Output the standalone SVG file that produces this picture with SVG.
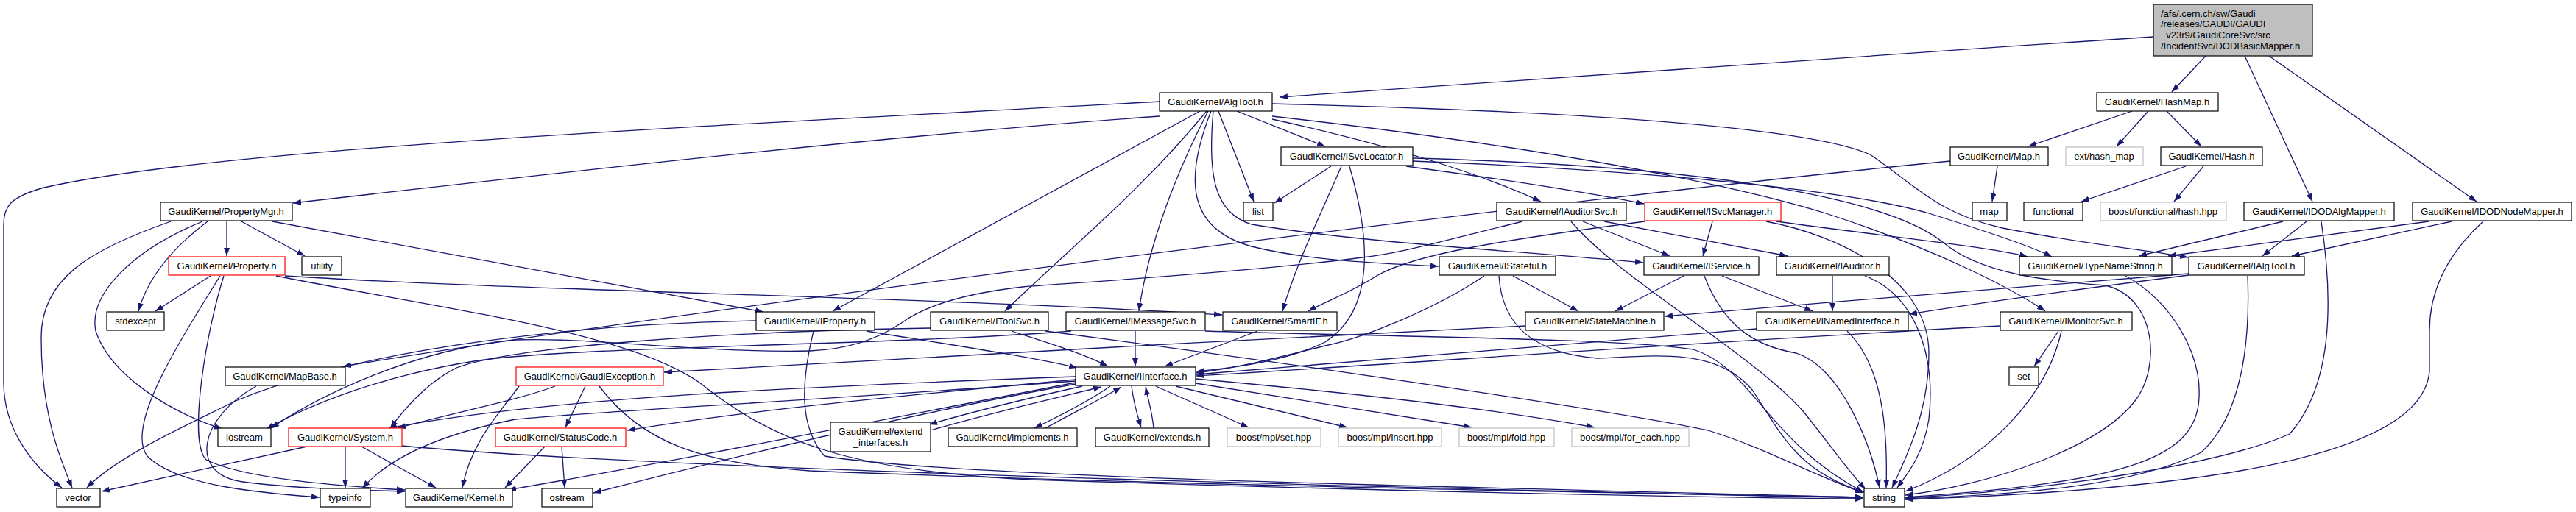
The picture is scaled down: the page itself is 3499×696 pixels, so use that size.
<svg xmlns="http://www.w3.org/2000/svg" width="3499" height="696" viewBox="0 0 3499 696">
<defs>
<marker id="a" markerUnits="userSpaceOnUse" markerWidth="12" markerHeight="9" refX="11" refY="4" orient="auto"><path d="M0,0 L11,4 L0,8 z" fill="#191970"/></marker>
<style>
.n rect{fill:#fff;stroke:#000;stroke-width:1.2}
.g rect{stroke:#bfbfbf}
.r rect{stroke:#ff0000}
text{font-family:"Liberation Sans",Arial,sans-serif;font-size:13px;fill:#000;text-anchor:middle}
.e path{fill:none;stroke:#191970;stroke-width:1.3;marker-end:url(#a)}
</style>
</defs>
<rect width="3499" height="696" fill="#fff"/>
<g id="edges" class="e">
<path d="M2925,50 C2500,78 2050,110 1738,132"/>
<path d="M2996,76 L2950,125"/>
<path d="M3049,76 L3141,274"/>
<path d="M3082,76 L3364,274"/>
<path d="M2896,151 L2755,199"/>
<path d="M2918,151 L2875,199"/>
<path d="M2943,151 L2990,199"/>
<path d="M2969,226 L2827,274"/>
<path d="M2993,226 L2953,274"/>
<path d="M2713,226 L2706,274"/>
<path d="M2649,219 C2200,262 1000,410 466,498"/>
<path d="M348,525 C270,568 255,645 330,655 C400,664 480,666 550,668"/>
<path d="M3101,301 L2905,348"/>
<path d="M3133,301 L3073,348"/>
<path d="M3153,301 C3168,400 3172,520 3110,590 C3020,630 2800,665 2588,677"/>
<path d="M3299,301 L2945,348"/>
<path d="M3330,301 L3113,348"/>
<path d="M3373,301 C3330,340 3300,390 3300,450 L3300,505 C3290,620 3000,665 2588,679"/>
<path d="M2887,375 C2950,410 2990,480 2987,540 C2984,620 2900,655 2588,676"/>
<path d="M2973,374 C2800,396 2700,410 2593,427"/>
<path d="M2973,372 C2700,392 2500,410 2261,430"/>
<path d="M3053,375 C3056,450 3050,560 2990,615 C2900,660 2750,672 2588,678"/>
<path d="M1575,138 C1000,170 300,200 60,255 C12,268 5,282 5,305 L5,520 C5,580 40,630 84,663"/>
<path d="M1575,158 C1200,185 800,230 398,276"/>
<path d="M1630,151 L1131,423"/>
<path d="M1639,151 C1550,260 1450,340 1365,423"/>
<path d="M1641,151 C1600,230 1560,330 1547,423"/>
<path d="M1645,151 C1610,240 1610,310 1700,335 C1780,355 1880,358 1954,362"/>
<path d="M1648,151 C1640,240 1650,290 1700,305 C1850,330 2050,340 2232,357"/>
<path d="M1655,151 L1703,274"/>
<path d="M1680,151 L1800,199"/>
<path d="M1728,162 C1900,200 2020,240 2093,274"/>
<path d="M1728,158 C2100,200 2350,250 2480,290 C2620,335 2730,390 2778,423"/>
<path d="M1728,141 C2100,150 2450,170 2540,210 C2600,250 2630,290 2720,310 C2850,335 2920,340 2972,350"/>
<path d="M1808,226 L1731,276"/>
<path d="M1822,226 C1790,300 1760,360 1742,423"/>
<path d="M1833,226 C1860,320 1870,420 1800,465 C1750,490 1680,500 1625,505"/>
<path d="M1910,226 C2050,245 2150,260 2233,277"/>
<path d="M1919,219 C2200,230 2500,255 2620,290 C2700,315 2760,335 2787,349"/>
<path d="M1919,215 C2300,225 2560,265 2640,330 C2690,372 2780,382 2860,388 C2930,405 2935,500 2900,545 C2850,610 2700,660 2588,673"/>
<path d="M2326,301 L2313,348"/>
<path d="M2234,301 C2050,325 1920,345 1870,375 C1830,400 1800,410 1777,423"/>
<path d="M2413,301 C2550,320 2700,335 2754,349"/>
<path d="M2399,301 C2500,320 2620,380 2620,480 C2620,560 2590,620 2570,663"/>
<path d="M2150,301 L2268,348"/>
<path d="M2179,301 L2428,348"/>
<path d="M2134,301 C2200,380 2380,480 2450,560 C2490,610 2510,640 2534,665"/>
<path d="M2068,301 C1950,330 1900,345 1850,350 C1700,370 1450,385 1389,390 C1300,400 1250,420 1223,440 C1190,462 1150,475 1100,477 C950,480 800,458 700,462 C560,475 430,540 368,582"/>
<path d="M2055,375 L2144,423"/>
<path d="M2016,375 C1950,420 1850,460 1800,470 C1720,490 1680,500 1625,507"/>
<path d="M2036,375 C2040,440 2080,480 2170,487 C2240,485 2330,470 2380,530 C2420,590 2440,640 2532,669"/>
<path d="M2287,375 L2194,423"/>
<path d="M2339,375 L2462,423"/>
<path d="M2315,375 C2340,440 2380,470 2440,480 C2500,500 2540,600 2553,663"/>
<path d="M2489,375 L2489,423"/>
<path d="M2533,375 C2600,400 2630,480 2620,570 C2612,620 2590,645 2577,663"/>
<path d="M2386,447 C2100,470 1800,495 1625,509"/>
<path d="M2509,450 C2550,490 2565,560 2562,663"/>
<path d="M2072,443 C1700,460 1200,490 902,506"/>
<path d="M2717,443 C2300,465 1900,495 1625,511"/>
<path d="M2796,450 L2763,498"/>
<path d="M2800,450 C2780,540 2700,625 2588,668"/>
<path d="M1177,450 C1300,470 1400,485 1463,500"/>
<path d="M1027,436 C800,440 500,470 320,545 C250,580 160,620 118,663"/>
<path d="M1105,450 C1088,520 1085,580 1120,620 C1300,650 2000,662 2531,676"/>
<path d="M1374,450 C1420,465 1470,480 1505,498"/>
<path d="M1420,450 C1800,500 2200,560 2320,585 C2400,610 2450,640 2531,670"/>
<path d="M1264,446 C1000,450 700,470 620,500 C580,520 550,555 530,582"/>
<path d="M1542,450 L1542,498"/>
<path d="M1455,450 C1200,470 800,470 650,490 C520,510 420,550 362,583"/>
<path d="M1637,450 C1900,458 2200,460 2300,475 C2380,500 2400,600 2531,669"/>
<path d="M1708,450 L1582,498"/>
<path d="M232,301 C120,340 55,380 56,460 C56,560 80,620 98,663"/>
<path d="M275,301 C180,340 120,400 130,450 C150,510 230,560 302,583"/>
<path d="M282,301 C230,340 200,380 188,423"/>
<path d="M308,301 L308,348"/>
<path d="M328,301 L414,348"/>
<path d="M370,301 L1037,424"/>
<path d="M286,375 L211,423"/>
<path d="M299,375 C240,470 170,580 200,620 C240,660 350,670 434,676"/>
<path d="M304,375 C280,450 255,600 280,625 C330,650 450,660 550,666"/>
<path d="M387,375 C700,395 1300,405 1660,428"/>
<path d="M375,375 C600,420 850,450 950,520 C1050,600 1150,640 1400,652 C1900,668 2300,676 2531,678"/>
<path d="M754,525 C700,545 620,560 540,582"/>
<path d="M795,525 L768,581"/>
<path d="M814,525 C870,600 950,630 1100,640 C1600,660 2200,670 2531,676"/>
<path d="M705,525 C680,560 640,600 628,663"/>
<path d="M763,607 L767,663"/>
<path d="M740,607 L686,663"/>
<path d="M417,607 L138,668"/>
<path d="M469,607 L469,663"/>
<path d="M491,607 L592,663"/>
<path d="M546,606 C800,630 1500,655 2531,677"/>
<path d="M1461,512 C1100,525 750,540 528,582"/>
<path d="M1461,520 C1150,580 900,630 690,666"/>
<path d="M1461,518 C1100,545 800,560 700,570 C600,590 530,620 492,664"/>
<path d="M1461,516 C1200,540 1000,560 852,585"/>
<path d="M1461,522 C1250,560 1000,620 806,670"/>
<path d="M1470,525 C1380,545 1320,560 1262,577"/>
<path d="M1264,585 C1350,560 1430,542 1496,526"/>
<path d="M1508,525 C1480,545 1440,565 1405,582"/>
<path d="M1420,582 C1460,560 1500,540 1523,526"/>
<path d="M1537,525 C1540,550 1545,565 1550,581"/>
<path d="M1567,582 C1565,560 1560,545 1556,526"/>
<path d="M1570,525 L1696,581"/>
<path d="M1597,525 L1830,581"/>
<path d="M1624,521 L1999,581"/>
<path d="M1624,515 C1900,540 2050,560 2166,581"/>
</g>
<g id="root" class="n"><rect x="2925" y="6" width="216" height="70" style="fill:#bfbfbf"/>
<text x="2935" y="23" style="text-anchor:start">/afs/.cern.ch/sw/Gaudi</text>
<text x="2935" y="37" style="text-anchor:start">/releases/GAUDI/GAUDI</text>
<text x="2935" y="52" style="text-anchor:start">_v23r9/GaudiCoreSvc/src</text>
<text x="2935" y="67" style="text-anchor:start">/IncidentSvc/DODBasicMapper.h</text></g>
<g id="AlgTool" class="n"><rect x="1575" y="126" width="153" height="25"/><text x="1651" y="143">GaudiKernel/AlgTool.h</text></g>
<g id="HashMap" class="n"><rect x="2848" y="126" width="165" height="25"/><text x="2930" y="143">GaudiKernel/HashMap.h</text></g>
<g id="ISvcLocator" class="n"><rect x="1740" y="200" width="179" height="25"/><text x="1829" y="217">GaudiKernel/ISvcLocator.h</text></g>
<g id="Map" class="n"><rect x="2649" y="200" width="133" height="25"/><text x="2715" y="217">GaudiKernel/Map.h</text></g>
<g id="ext_hash_map" class="n g"><rect x="2806" y="200" width="105" height="25"/><text x="2858" y="217">ext/hash_map</text></g>
<g id="Hash" class="n"><rect x="2935" y="200" width="138" height="25"/><text x="3004" y="217">GaudiKernel/Hash.h</text></g>
<g id="PropertyMgr" class="n"><rect x="218" y="275" width="179" height="25"/><text x="307" y="292">GaudiKernel/PropertyMgr.h</text></g>
<g id="list" class="n"><rect x="1689" y="275" width="40" height="25"/><text x="1709" y="292">list</text></g>
<g id="IAuditorSvc" class="n"><rect x="2033" y="275" width="176" height="25"/><text x="2121" y="292">GaudiKernel/IAuditorSvc.h</text></g>
<g id="ISvcManager" class="n r"><rect x="2234" y="275" width="185" height="25"/><text x="2326" y="292">GaudiKernel/ISvcManager.h</text></g>
<g id="map" class="n"><rect x="2679" y="275" width="47" height="25"/><text x="2702" y="292">map</text></g>
<g id="functional" class="n"><rect x="2749" y="275" width="80" height="25"/><text x="2789" y="292">functional</text></g>
<g id="boost_functional_hash" class="n g"><rect x="2853" y="275" width="171" height="25"/><text x="2938" y="292">boost/functional/hash.hpp</text></g>
<g id="IDODAlgMapper" class="n"><rect x="3048" y="275" width="204" height="25"/><text x="3150" y="292">GaudiKernel/IDODAlgMapper.h</text></g>
<g id="IDODNodeMapper" class="n"><rect x="3277" y="275" width="216" height="25"/><text x="3385" y="292">GaudiKernel/IDODNodeMapper.h</text></g>
<g id="Property" class="n r"><rect x="229" y="349" width="158" height="25"/><text x="308" y="366">GaudiKernel/Property.h</text></g>
<g id="utility" class="n"><rect x="410" y="349" width="54" height="25"/><text x="437" y="366">utility</text></g>
<g id="IStateful" class="n"><rect x="1955" y="349" width="158" height="25"/><text x="2034" y="366">GaudiKernel/IStateful.h</text></g>
<g id="IService" class="n"><rect x="2233" y="349" width="156" height="25"/><text x="2311" y="366">GaudiKernel/IService.h</text></g>
<g id="IAuditor" class="n"><rect x="2413" y="349" width="153" height="25"/><text x="2489" y="366">GaudiKernel/IAuditor.h</text></g>
<g id="TypeNameString" class="n"><rect x="2743" y="349" width="207" height="25"/><text x="2846" y="366">GaudiKernel/TypeNameString.h</text></g>
<g id="IAlgTool" class="n"><rect x="2973" y="349" width="157" height="25"/><text x="3051" y="366">GaudiKernel/IAlgTool.h</text></g>
<g id="stdexcept" class="n"><rect x="145" y="424" width="78" height="25"/><text x="184" y="441">stdexcept</text></g>
<g id="IProperty" class="n"><rect x="1027" y="424" width="161" height="25"/><text x="1107" y="441">GaudiKernel/IProperty.h</text></g>
<g id="IToolSvc" class="n"><rect x="1264" y="424" width="160" height="25"/><text x="1344" y="441">GaudiKernel/IToolSvc.h</text></g>
<g id="IMessageSvc" class="n"><rect x="1448" y="424" width="189" height="25"/><text x="1542" y="441">GaudiKernel/IMessageSvc.h</text></g>
<g id="SmartIF" class="n"><rect x="1661" y="424" width="155" height="25"/><text x="1738" y="441">GaudiKernel/SmartIF.h</text></g>
<g id="StateMachine" class="n"><rect x="2072" y="424" width="188" height="25"/><text x="2166" y="441">GaudiKernel/StateMachine.h</text></g>
<g id="INamedInterface" class="n"><rect x="2386" y="424" width="206" height="25"/><text x="2489" y="441">GaudiKernel/INamedInterface.h</text></g>
<g id="IMonitorSvc" class="n"><rect x="2717" y="424" width="179" height="25"/><text x="2806" y="441">GaudiKernel/IMonitorSvc.h</text></g>
<g id="MapBase" class="n"><rect x="306" y="499" width="163" height="25"/><text x="387" y="516">GaudiKernel/MapBase.h</text></g>
<g id="GaudiException" class="n r"><rect x="701" y="499" width="200" height="25"/><text x="801" y="516">GaudiKernel/GaudiException.h</text></g>
<g id="IInterface" class="n"><rect x="1461" y="499" width="163" height="25"/><text x="1542" y="516">GaudiKernel/IInterface.h</text></g>
<g id="set" class="n"><rect x="2729" y="499" width="40" height="25"/><text x="2749" y="516">set</text></g>
<g id="iostream" class="n"><rect x="296" y="582" width="72" height="25"/><text x="332" y="599">iostream</text></g>
<g id="System" class="n r"><rect x="392" y="582" width="154" height="25"/><text x="469" y="599">GaudiKernel/System.h</text></g>
<g id="StatusCode" class="n r"><rect x="673" y="582" width="177" height="25"/><text x="761" y="599">GaudiKernel/StatusCode.h</text></g>
<g id="extend_interfaces" class="n"><rect x="1128" y="574" width="136" height="40"/><text x="1196" y="591">GaudiKernel/extend</text><text x="1196" y="606">_interfaces.h</text></g>
<g id="implements" class="n"><rect x="1288" y="582" width="175" height="25"/><text x="1375" y="599">GaudiKernel/implements.h</text></g>
<g id="extends" class="n"><rect x="1488" y="582" width="154" height="25"/><text x="1565" y="599">GaudiKernel/extends.h</text></g>
<g id="boost_mpl_set" class="n g"><rect x="1667" y="582" width="127" height="25"/><text x="1730" y="599">boost/mpl/set.hpp</text></g>
<g id="boost_mpl_insert" class="n g"><rect x="1818" y="582" width="140" height="25"/><text x="1888" y="599">boost/mpl/insert.hpp</text></g>
<g id="boost_mpl_fold" class="n g"><rect x="1982" y="582" width="129" height="25"/><text x="2046" y="599">boost/mpl/fold.hpp</text></g>
<g id="boost_mpl_for_each" class="n g"><rect x="2135" y="582" width="159" height="25"/><text x="2214" y="599">boost/mpl/for_each.hpp</text></g>
<g id="vector" class="n"><rect x="77" y="664" width="59" height="25"/><text x="106" y="681">vector</text></g>
<g id="typeinfo" class="n"><rect x="435" y="664" width="68" height="25"/><text x="469" y="681">typeinfo</text></g>
<g id="Kernel" class="n"><rect x="551" y="664" width="145" height="25"/><text x="623" y="681">GaudiKernel/Kernel.h</text></g>
<g id="ostream" class="n"><rect x="736" y="664" width="69" height="25"/><text x="770" y="681">ostream</text></g>
<g id="string" class="n"><rect x="2532" y="664" width="55" height="25"/><text x="2559" y="681">string</text></g>
</svg>
